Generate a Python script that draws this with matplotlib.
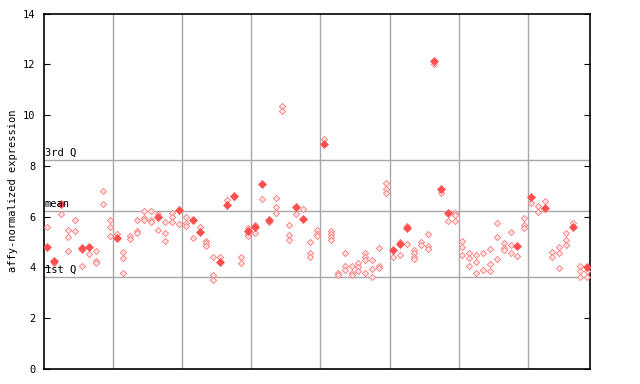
import matplotlib
matplotlib.use('Agg')
import matplotlib.pyplot as plt

# replicate values per sample (hollow diamonds)
hollow = [
    [5.59], [4.17], [6.11], [5.48, 5.19, 4.65], [5.87, 5.44],
    [4.70, 4.06], [4.52], [4.65, 4.27, 4.19], [7.01, 6.51], [5.87, 5.59, 5.22],
    [5.32], [4.61, 4.36, 3.77], [5.22, 5.12], [5.87, 5.45, 5.35], [6.22, 5.93, 5.87],
    [6.22, 5.87, 5.78], [6.10, 5.48], [5.80, 5.35, 5.05], [6.14, 5.97, 5.80], [5.72],
    [5.98, 5.74, 5.64], [5.15], [5.59], [5.06, 4.97, 4.85], [4.40, 3.71, 3.51],
    [4.40], [6.66], [6.77], [4.40, 4.17], [5.55, 5.30, 5.22],
    [5.68, 5.35], [6.69], [5.80], [6.73, 6.38, 6.14], [10.37, 10.16],
    [5.66, 5.28, 5.09], [6.11], [6.29], [4.99, 4.56, 4.40], [5.48, 5.32, 5.22],
    [9.07], [5.45, 5.32, 5.20, 5.08], [3.78, 3.70], [4.56, 4.06, 3.90], [4.04, 3.78, 3.70],
    [4.19, 4.01, 3.84], [4.56, 4.40, 4.30, 3.80], [4.30, 3.93, 3.64], [4.76, 4.06, 3.96], [7.32, 7.08, 6.95],
    [4.43], [5.02, 4.48], [5.64, 4.91], [4.67, 4.56, 4.43, 4.32], [5.02, 4.87],
    [5.32, 4.85, 4.74], [12.00], [6.95], [5.82], [6.16, 6.06, 5.82],
    [5.06, 4.80, 4.48], [4.56, 4.38, 4.06], [4.48, 4.21, 3.77], [4.56, 3.90], [4.72, 4.14, 3.85],
    [5.74, 5.19, 4.34], [4.96, 4.77, 4.67], [5.39, 4.87, 4.56], [4.44], [5.93, 5.66, 5.56],
    [6.53], [6.43, 6.18], [6.62], [4.61, 4.43], [4.82, 4.56, 3.98],
    [5.35, 5.09, 4.87], [5.74], [4.04, 3.84, 3.64], [3.84, 3.61],
]

# highlighted value per sample (filled diamonds), None when absent
solid = [
    4.82, 4.27, 6.49, None, None, 4.78, 4.80, None, None, None,
    5.14, None, None, None, None, None, 5.97, None, None, 6.28,
    None, 5.85, 5.38, None, None, 4.22, 6.44, 6.83, None, 5.45,
    5.59, 7.27, 5.87, None, None, None, 6.37, 5.89, None, None,
    8.87, None, None, None, None, None, None, None, None, None,
    4.67, 4.92, 5.56, None, None, None, 12.12, 7.08, 6.16, None,
    None, None, None, None, None, None, None, None, 4.85, None,
    6.76, None, 6.36, None, None, None, 5.61, None, 4.01,
]

q1, mean, q3 = 3.63, 6.22, 8.23
red = '#ff4f4f'

plt.rcParams['font.family'] = 'DejaVu Sans Mono'
fig = plt.figure(figsize=(6.4, 3.84), dpi=100)
ax = fig.add_axes([44 / 640, 1 - 369 / 384, 546 / 640, 355.5 / 384])

for i, vals in enumerate(hollow):
    ax.plot([i] * len(vals), vals, linestyle='none', marker='D', ms=3.2,
            mfc='#ffe2e2', mec='#ff7a7a', mew=0.6, zorder=3)
for i, v in enumerate(solid):
    if v is not None:
        ax.plot([i], [v], linestyle='none', marker='D', ms=3.8,
                mfc=red, mec=red, mew=0.5, zorder=4)

n = len(hollow)
for g in range(10, n, 10):
    ax.axvline(g - 0.5, color='#a8a8a8', lw=1, zorder=1)
for y, lab in [(q3, '3rd Q'), (mean, 'mean'), (q1, '1st Q')]:
    ax.axhline(y, color='#a8a8a8', lw=1, zorder=1)
    ax.text(-0.4, y + 0.08, lab, fontsize=7.5, va='bottom', ha='left', zorder=5)

ax.set_xlim(-0.5, n - 0.5)
ax.set_ylim(0, 14)
ax.set_yticks(range(0, 15, 2))
ax.set_xticks([])
ax.tick_params(axis='y', direction='in', length=4, labelsize=7.5, right=True, pad=6)
ax.set_ylabel('affy-normalized expression', fontsize=7.5, labelpad=4)
for s in ax.spines.values():
    s.set_linewidth(1.2)

fig.savefig('out.png', dpi=100)
